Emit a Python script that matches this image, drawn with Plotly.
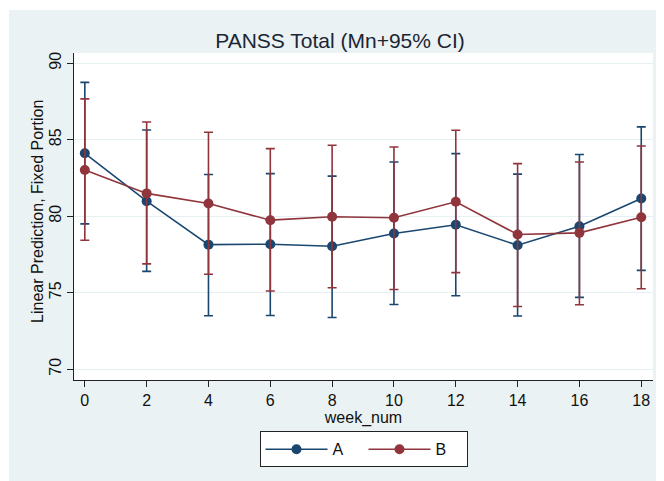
import plotly.graph_objects as go

weeks = [0, 2, 4, 6, 8, 10, 12, 14, 16, 18]

a_mean = [84.11, 80.98, 78.14, 78.17, 78.03, 78.87, 79.44, 78.10, 79.34, 81.16]
a_upper = [88.75, 85.64, 82.73, 82.78, 82.62, 83.54, 84.09, 82.75, 84.03, 85.84]
a_lower = [79.50, 76.39, 73.49, 73.51, 73.38, 74.23, 74.80, 73.47, 74.69, 76.46]

b_mean = [83.02, 81.49, 80.83, 79.74, 79.96, 79.90, 80.94, 78.80, 78.91, 79.93]
b_upper = [87.67, 86.16, 85.49, 84.42, 84.64, 84.52, 85.62, 83.44, 83.54, 84.59]
b_lower = [78.43, 76.88, 76.20, 75.11, 75.32, 75.21, 76.31, 74.10, 74.21, 75.26]

y_ticks = [70, 75, 80, 85, 90]
x_ticks = [0, 2, 4, 6, 8, 10, 12, 14, 16, 18]

blue = "#1A476F"
red = "#90353B"
font = "Liberation Sans, Arial, sans-serif"

def trace(name, mean, upper, lower, color):
    return go.Scatter(
        x=weeks, y=mean, name=name, mode="lines+markers",
        line=dict(color=color, width=1.6),
        marker=dict(color=color, size=10),
        error_y=dict(type="data", symmetric=False,
                     array=[u - m for u, m in zip(upper, mean)],
                     arrayminus=[m - l for m, l in zip(mean, lower)],
                     color=color, thickness=1.6, width=4.5),
    )

fig = go.Figure()
fig.add_trace(trace("A", a_mean, a_upper, a_lower, blue))
fig.add_trace(trace("B", b_mean, b_upper, b_lower, red))

# page body has an 8px margin, so the figure is 8px smaller than the window
W, H = 656, 473
L, R, T, B = 66, 11, 45, 101
pw, ph = W - L - R, H - T - B

# thin extra white strips (top, left) to match the reference's outer border
fig.add_shape(type="rect", xref="paper", yref="paper", layer="below",
              x0=-L / pw - 0.1, x1=(W - L) / pw + 0.1,
              y0=(ph + T - 2) / ph, y1=(ph + T) / ph + 0.1,
              fillcolor="white", line_width=0)
fig.add_shape(type="rect", xref="paper", yref="paper", layer="below",
              x0=-L / pw - 0.1, x1=(1 - L) / pw,
              y0=-B / ph - 0.1, y1=(ph + T) / ph + 0.1,
              fillcolor="white", line_width=0)

fig.add_annotation(text="Linear Prediction, Fixed Portion", textangle=-90,
                   xref="paper", yref="paper", x=-36 / pw, y=0.514,
                   xanchor="center", yanchor="middle", showarrow=False,
                   font=dict(size=16, color="#111", family=font))

fig.update_layout(
    width=W, height=H,
    margin=dict(l=L, r=R, t=T, b=B, autoexpand=False),
    paper_bgcolor="#EAF2F3",
    plot_bgcolor="white",
    font=dict(family=font, size=16, color="#111"),
    title=dict(text="PANSS Total (Mn+95% CI)", x=332 / W, xanchor="center",
               y=1 - 33 / H, yanchor="middle",
               font=dict(size=21, color="#1c2533", family=font)),
    xaxis=dict(range=[-0.35, 18.38], tickvals=x_ticks, ticks="outside", ticklen=6,
               tickcolor="#222", showline=True, linecolor="#222", linewidth=1,
               showgrid=False, zeroline=False, automargin=False,
               title=dict(text="week_num", standoff=0, font=dict(size=16)),
               tickfont=dict(size=16)),
    yaxis=dict(range=[69.29, 90.67], tickvals=y_ticks, ticks="outside", ticklen=6,
               tickcolor="#222", showline=True, linecolor="#222", linewidth=1,
               showgrid=True, gridcolor="#E6EFF1", gridwidth=1, zeroline=False,
               tickangle=-90, automargin=False,
               tickfont=dict(size=16)),
    legend=dict(orientation="h", x=0.5, xanchor="center", y=-0.157, yanchor="top",
                bgcolor="white", bordercolor="#222", borderwidth=1,
                font=dict(size=16, color="#111"), itemwidth=62,
                entrywidth=26, tracegroupgap=0),
    showlegend=True,
)

fig.write_html("out.html")
